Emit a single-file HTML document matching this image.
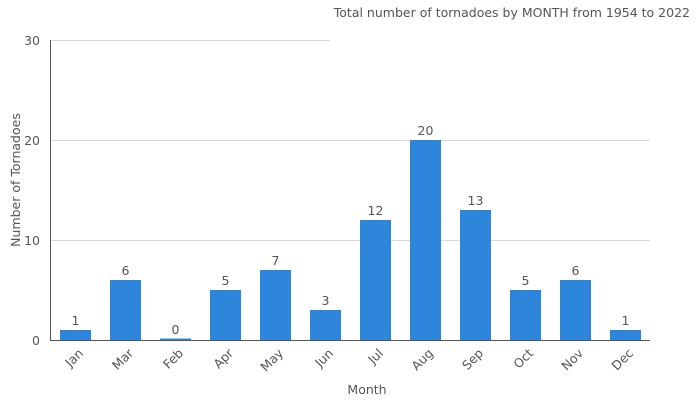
<!DOCTYPE html>
<html><head><style>body{margin:0;background:#fff}svg{display:block}text{font-family:"DejaVu Sans","Liberation Sans",sans-serif}</style></head>
<body>
<svg width="700" height="400" viewBox="0 0 700 400" xmlns="http://www.w3.org/2000/svg">
<rect width="700" height="400" fill="#fff"/>
<g stroke="#d9d9d9" stroke-width="1">
<line x1="50" y1="40.5" x2="330" y2="40.5"/>
<line x1="50" y1="140.5" x2="650" y2="140.5"/>
<line x1="50" y1="240.5" x2="650" y2="240.5"/>
</g>
<text x="690" y="17" font-size="12.5" fill="#555" text-anchor="end">Total number of tornadoes by MONTH from 1954 to 2022</text>
<g font-size="12.5" fill="#555" text-anchor="end">
<text x="40" y="45">30</text><text x="40" y="145">20</text><text x="40" y="245">10</text><text x="40" y="345">0</text>
</g>
<text transform="translate(20,180) rotate(-90)" font-size="12.5" fill="#555" text-anchor="middle">Number of Tornadoes</text>
<text x="367" y="394" font-size="12.5" fill="#555" text-anchor="middle">Month</text>
<g fill="#2e86dc">
<rect x="60" y="330" width="31" height="10"/>
<rect x="110" y="280" width="31" height="60"/>
<rect x="160" y="338.5" width="31" height="1.5"/>
<rect x="210" y="290" width="31" height="50"/>
<rect x="260" y="270" width="31" height="70"/>
<rect x="310" y="310" width="31" height="30"/>
<rect x="360" y="220" width="31" height="120"/>
<rect x="410" y="140" width="31" height="200"/>
<rect x="460" y="210" width="31" height="130"/>
<rect x="510" y="290" width="31" height="50"/>
<rect x="560" y="280" width="31" height="60"/>
<rect x="610" y="330" width="31" height="10"/>
</g>
<g font-size="12.5" fill="#555" text-anchor="middle">
<text x="75.5" y="325">1</text><text x="125.5" y="275">6</text><text x="175.5" y="334">0</text>
<text x="225.5" y="285">5</text><text x="275.5" y="265">7</text><text x="325.5" y="305">3</text>
<text x="375.5" y="215">12</text><text x="425.5" y="135">20</text><text x="475.5" y="205">13</text>
<text x="525.5" y="285">5</text><text x="575.5" y="275">6</text><text x="625.5" y="325">1</text>
</g>
<line x1="50.5" y1="40" x2="50.5" y2="340" stroke="#555"/>
<line x1="50" y1="340.5" x2="650" y2="340.5" stroke="#555"/>
<g font-size="12.5" fill="#555" text-anchor="end">
<text transform="translate(84,354) rotate(-45)">Jan</text>
<text transform="translate(134,354) rotate(-45)">Mar</text>
<text transform="translate(184,354) rotate(-45)">Feb</text>
<text transform="translate(234,354) rotate(-45)">Apr</text>
<text transform="translate(284,354) rotate(-45)">May</text>
<text transform="translate(334,354) rotate(-45)">Jun</text>
<text transform="translate(384,354) rotate(-45)">Jul</text>
<text transform="translate(434,354) rotate(-45)">Aug</text>
<text transform="translate(484,354) rotate(-45)">Sep</text>
<text transform="translate(534,354) rotate(-45)">Oct</text>
<text transform="translate(584,354) rotate(-45)">Nov</text>
<text transform="translate(634,354) rotate(-45)">Dec</text>
</g>
</svg>
</body></html>
